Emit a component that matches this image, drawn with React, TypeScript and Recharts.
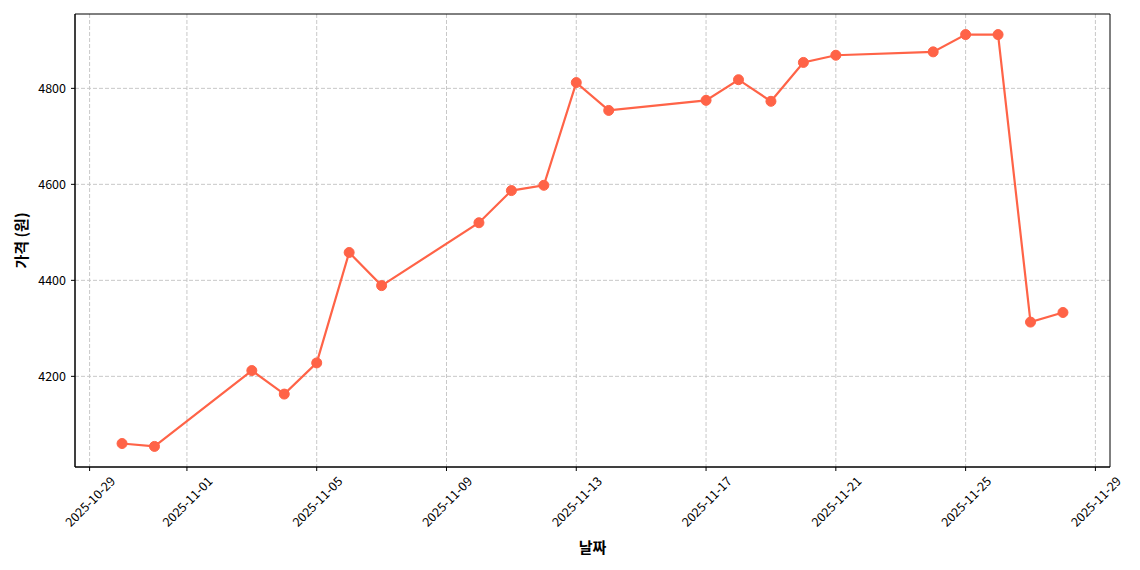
import {
  LineChart,
  Line,
  XAxis,
  YAxis,
  CartesianGrid,
  ReferenceArea,
} from "recharts";

// dates and prices
const dates: string[] = [
  "2025-10-30", "2025-10-31", "2025-11-03", "2025-11-04", "2025-11-05",
  "2025-11-06", "2025-11-07", "2025-11-10", "2025-11-11", "2025-11-12",
  "2025-11-13", "2025-11-14", "2025-11-17", "2025-11-18", "2025-11-19",
  "2025-11-20", "2025-11-21", "2025-11-24", "2025-11-25", "2025-11-26",
  "2025-11-27", "2025-11-28",
];

const prices: number[] = [
  4060, 4054, 4212, 4163, 4228,
  4458, 4389, 4520, 4587, 4598,
  4812, 4754, 4775, 4818, 4773,
  4854, 4869, 4876, 4912, 4912,
  4313, 4333,
];

const xTickDates: string[] = [
  "2025-10-29", "2025-11-01", "2025-11-05", "2025-11-09", "2025-11-13",
  "2025-11-17", "2025-11-21", "2025-11-25", "2025-11-29",
];

const yTicks: number[] = [4200, 4400, 4600, 4800];

const toTime = (d: string): number => Date.parse(d + "T00:00:00Z");
const fmtDate = (t: number): string => new Date(t).toISOString().slice(0, 10);

const data = dates.map((d, i) => ({ t: toTime(d), price: prices[i] }));
const xTicks = xTickDates.map(toTime);

// matplotlib-ish 5% margins
const tMin = data[0].t;
const tMax = data[data.length - 1].t;
const xPad = (tMax - tMin) * 0.05;
const xDomain: [number, number] = [tMin - xPad, tMax + xPad];
const pMin = Math.min(...prices);
const pMax = Math.max(...prices);
const yPad = (pMax - pMin) * 0.05;
const yDomain: [number, number] = [pMin - yPad, pMax + yPad];

const FONT = '"Noto Sans CJK KR", "Noto Sans", sans-serif';
const COLOR = "#ff6347";

type TickProps = { x?: number; y?: number; payload?: { value: number } };

const DateTick = ({ x = 0, y = 0, payload }: TickProps) => {
  const cy = y + 28;
  return (
    <text
      x={x}
      y={cy}
      textAnchor="middle"
      dominantBaseline="central"
      fontSize={12.5}
      fontFamily={FONT}
      fill="#000"
      transform={`rotate(-45, ${x}, ${cy})`}
    >
      {payload ? fmtDate(payload.value) : ""}
    </text>
  );
};

export default function App() {
  return (
    <div style={{ position: "absolute", left: 0, top: 0, width: 1140, height: 570, background: "#fff" }}>
      <LineChart
        width={1140}
        height={570}
        data={data}
        margin={{ top: 14, right: 30, bottom: 3, left: 15 }}
      >
        <CartesianGrid
          stroke="#c8c8c8"
          strokeDasharray="4 2"
          verticalValues={xTicks}
          horizontalValues={yTicks}
        />
        <XAxis
          dataKey="t"
          type="number"
          scale="time"
          domain={xDomain}
          ticks={xTicks}
          interval={0}
          height={100}
          tickSize={4}
          tickMargin={2}
          stroke="#000"
          tick={<DateTick />}
          allowDataOverflow
          label={{
            content: ({ viewBox }: any) => (
              <text
                x={viewBox.x + viewBox.width / 2}
                y={546}
                textAnchor="middle"
                dominantBaseline="central"
                fontSize={15}
                fontWeight="bold"
                fontFamily={FONT}
                fill="#000"
              >
                날짜
              </text>
            ),
          }}
        />
        <YAxis
          type="number"
          domain={yDomain}
          ticks={yTicks}
          interval={0}
          width={60}
          tickSize={4}
          tickMargin={5}
          stroke="#000"
          allowDataOverflow
          tick={{ fontSize: 12.5, fontFamily: FONT, fill: "#000" }}
          label={{
            content: ({ viewBox }: any) => {
              const cy = viewBox.y + viewBox.height / 2;
              return (
                <text
                  x={20}
                  y={cy}
                  textAnchor="middle"
                  dominantBaseline="central"
                  fontSize={15}
                  fontWeight="bold"
                  fontFamily={FONT}
                  fill="#000"
                  transform={`rotate(-90, 20, ${cy})`}
                >
                  가격 (원)
                </text>
              );
            },
          }}
        />
        <Line
          type="linear"
          dataKey="price"
          stroke={COLOR}
          strokeWidth={2.2}
          dot={{ r: 5, fill: COLOR, stroke: COLOR, strokeWidth: 1 }}
          activeDot={false}
          isAnimationActive={false}
        />
        <ReferenceArea
          x1={xDomain[0]}
          x2={xDomain[1]}
          y1={yDomain[0]}
          y2={yDomain[1]}
          fill="none"
          stroke="#000"
          strokeWidth={1}
          ifOverflow="extendDomain"
        />
      </LineChart>
    </div>
  );
}
